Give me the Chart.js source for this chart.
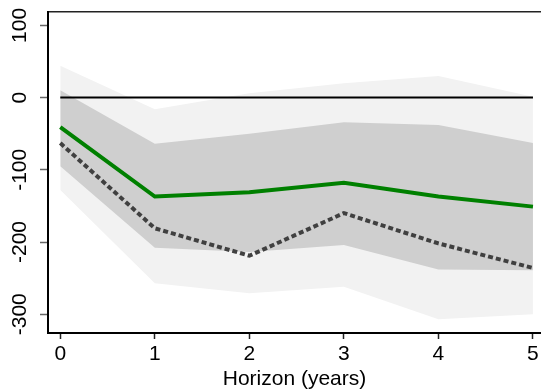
<!DOCTYPE html>
<html>
<head>
<meta charset="utf-8">
<script src="https://cdn.jsdelivr.net/npm/chart.js@4/dist/chart.umd.min.js"></script>
<style>
  html, body { margin: 0; padding: 0; background: #fff; }
  #irfChart { display: block; }
</style>
</head>
<body>
<canvas id="irfChart" width="541" height="392"></canvas>
<script>
var horizon = [0, 1, 2, 3, 4, 5];
var pointEstimate = [-41, -137, -131, -118, -137, -151];
var altEstimate = [-63, -181, -219, -160, -202, -236];
var innerUpper = [10, -64, -50, -34, -38, -63];
var innerLower = [-95, -208, -214, -204, -238, -239];
var outerUpper = [44, -16, 6, 20, 30, 1];
var outerLower = [-128, -257, -271, -262, -307, -300];
var zeroLine = [0, 0, 0, 0, 0, 0];
var xTicks = [0, 1, 2, 3, 4, 5];
var yTicks = [-300, -200, -100, 0, 100];

function pts(values) {
  return horizon.map(function (h, i) { return { x: h, y: values[i] }; });
}

// drop the few pixels Chart.js reserves for edge labels
function noEdgePad(axis) {
  axis.paddingLeft = 0;
  axis.paddingRight = 0;
  axis.paddingTop = 0;
  axis.paddingBottom = 0;
}

var xMin = -0.13, xMax = 5.085;
var labelFont = { family: 'Liberation Sans, Arial, sans-serif', size: 21 };

var chartCtx = document.getElementById('irfChart').getContext('2d');
var irfChart = new Chart(chartCtx, {
  type: 'line',
  data: {
    datasets: [
      {
        data: pts(pointEstimate),
        borderColor: '#008000',
        borderWidth: 4,
        pointRadius: 0,
        fill: false,
      },
      {
        data: pts(altEstimate),
        borderColor: '#404040',
        borderWidth: 4,
        borderDash: [5, 3],
        pointRadius: 0,
        fill: false,
      },
      {
        data: pts(zeroLine),
        borderColor: '#000',
        borderWidth: 2,
        pointRadius: 0,
        fill: false,
      },
      {
        data: pts(innerUpper),
        borderWidth: 0,
        pointRadius: 0,
        backgroundColor: '#cfcfcf',
        fill: '+1',
      },
      {
        data: pts(innerLower),
        borderWidth: 0,
        pointRadius: 0,
        fill: false,
      },
      {
        data: pts(outerUpper),
        borderWidth: 0,
        pointRadius: 0,
        backgroundColor: '#f2f2f2',
        fill: '+1',
      },
      {
        data: pts(outerLower),
        borderWidth: 0,
        pointRadius: 0,
        fill: false,
      },
    ],
  },
  options: {
    responsive: false,
    animation: false,
    devicePixelRatio: 1,
    layout: { padding: 0 },
    plugins: {
      legend: { display: false },
      tooltip: { enabled: false },
    },
    scales: {
      x: {
        type: 'linear',
        position: 'bottom',
        min: xMin,
        max: xMax,
        afterBuildTicks: function (axis) {
          axis.ticks = xTicks.map(function (v) { return { value: v }; });
        },
        afterFit: function (axis) {
          axis.height = 59;
          noEdgePad(axis);
        },
        grid: {
          drawOnChartArea: false,
          drawTicks: true,
          tickLength: 6,
          tickWidth: 1.5,
          color: '#222',
        },
        border: { display: true, color: '#000', width: 2 },
        ticks: { font: labelFont, color: '#000', padding: 3, maxRotation: 0 },
        title: {
          display: true,
          text: 'Horizon (years)',
          font: labelFont,
          color: '#000',
          padding: { top: 2, bottom: 0 },
        },
      },
      xTop: {
        type: 'linear',
        position: 'top',
        min: xMin,
        max: xMax,
        afterFit: function (axis) {
          axis.height = 12;
          noEdgePad(axis);
        },
        grid: { drawOnChartArea: false, drawTicks: false },
        border: { display: true, color: '#222', width: 1.5 },
        ticks: { display: false },
      },
      y: {
        type: 'linear',
        min: -326,
        max: 118.5,
        afterBuildTicks: function (axis) {
          axis.ticks = yTicks.map(function (v) { return { value: v }; });
        },
        afterFit: function (axis) {
          axis.width = 48;
          noEdgePad(axis);
        },
        grid: {
          drawOnChartArea: false,
          drawTicks: true,
          tickLength: 8,
          tickWidth: 1.5,
          color: '#666',
        },
        border: { display: true, color: '#000', width: 2 },
        ticks: {
          font: labelFont,
          color: '#000',
          padding: -1,
          minRotation: 90,
          maxRotation: 90,
          crossAlign: 'center',
        },
      },
    },
  },
});
</script>
</body>
</html>
